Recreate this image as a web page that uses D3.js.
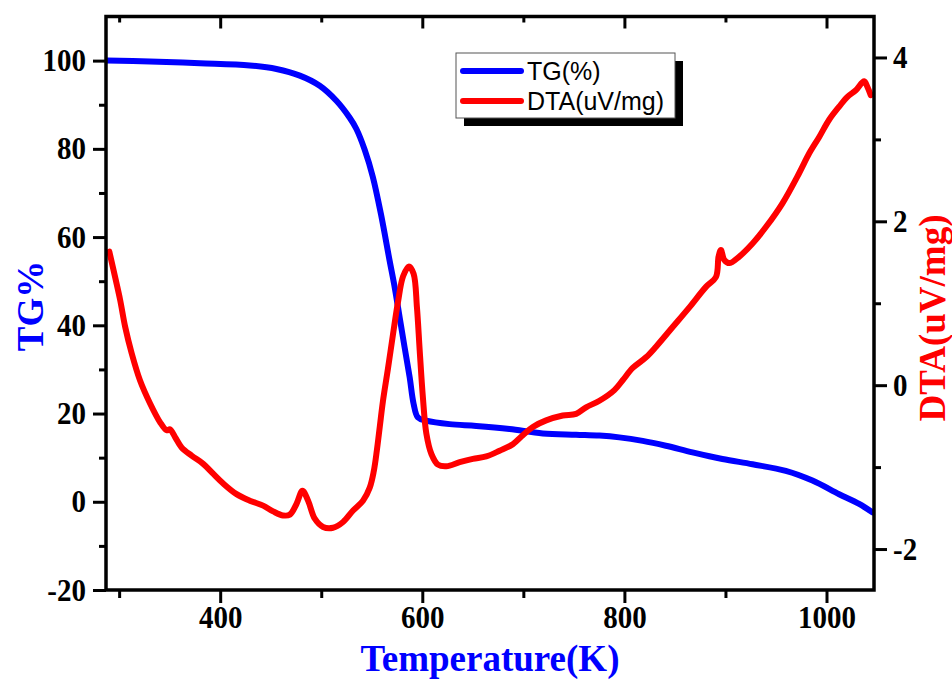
<!DOCTYPE html>
<html>
<head>
<meta charset="utf-8">
<script src="https://cdn.jsdelivr.net/npm/d3@7/dist/d3.min.js"></script>
<style>
  html, body { margin: 0; padding: 0; background: #ffffff; }
  svg { display: block; }
  .tick text { font-family: "Liberation Serif", "Times New Roman", serif; font-weight: bold; font-size: 29px; fill: #000; }
</style>
</head>
<body>
<svg id="chart" width="952" height="681"></svg>
<script>
// ---- Data ----
const tgTemp = [287.7, 330.5, 380, 429.3, 455.7, 478.8, 498.5, 515, 528, 534.8, 543, 551, 559, 567.7, 572.7, 577.6, 582.5, 587.5, 591.4, 595.7, 604, 627, 653.4, 686.3, 719.2, 752.2, 775.3, 795, 818.1, 841, 867.4, 897, 926.8, 959.7, 986.1, 1012.5, 1032.3, 1045.4];
const tgValue = [100, 99.8, 99.4, 98.9, 98.1, 96.6, 94.3, 90.9, 87.1, 84.5, 79.8, 73.7, 65.3, 54.6, 48.6, 41.8, 35.0, 28.2, 22.2, 19.1, 18.4, 17.6, 17.2, 16.5, 15.5, 15.2, 15.0, 14.6, 13.8, 12.7, 11.2, 9.7, 8.5, 7.0, 4.8, 1.7, -0.5, -2.4];

const dtaTemp = [290.3, 296, 301, 306, 312.4, 320.6, 330.5, 340.4, 347, 350.3, 355.2, 361.8, 371.7, 383.2, 393, 403, 416.2, 429.3, 442.5, 452.4, 462.3, 468.9, 475.5, 481.4, 487, 493.6, 501.8, 511.7, 521.6, 531.5, 541.3, 548, 552, 555, 558, 561, 566, 571, 576, 581, 586.8, 591.4, 594.7, 597.4, 600.6, 604, 609, 615.5, 623.8, 637, 650, 663.3, 676.5, 689.6, 699.5, 709.4, 722.6, 739, 752.2, 762.1, 775.3, 790.1, 798.3, 808.2, 821.4, 831.3, 847.8, 864.3, 880.7, 890.6, 893.2, 895.5, 898.8, 903.8, 913.7, 926.8, 940, 956.4, 973, 982.9, 992.8, 1002.6, 1012.5, 1020.7, 1029, 1037.2, 1040.5, 1043.8];
const dtaValue = [1.63, 1.32, 1.04, 0.71, 0.39, 0.06, -0.22, -0.45, -0.55, -0.54, -0.63, -0.76, -0.86, -0.96, -1.08, -1.20, -1.33, -1.41, -1.47, -1.54, -1.59, -1.58, -1.45, -1.29, -1.41, -1.63, -1.73, -1.74, -1.67, -1.53, -1.41, -1.25, -1.05, -0.8, -0.5, -0.2, 0.2, 0.62, 1.02, 1.33, 1.45, 1.36, 0.95, 0.43, -0.15, -0.59, -0.84, -0.97, -0.99, -0.94, -0.90, -0.87, -0.80, -0.72, -0.61, -0.51, -0.43, -0.37, -0.35, -0.27, -0.19, -0.06, 0.06, 0.21, 0.34, 0.47, 0.71, 0.95, 1.20, 1.32, 1.57, 1.65, 1.53, 1.49, 1.57, 1.73, 1.93, 2.22, 2.59, 2.83, 3.03, 3.24, 3.40, 3.52, 3.60, 3.71, 3.64, 3.54];

const xMajorTicks = [400, 600, 800, 1000];
const xMinorTicks = [300, 500, 700, 900];
const yLeftMajorTicks = [-20, 0, 20, 40, 60, 80, 100];
const yLeftMinorTicks = [-10, 10, 30, 50, 70, 90];
const yRightMajorTicks = [-2, 0, 2, 4];
const yRightMinorTicks = [-1, 1, 3];

const seriesNames = ["TG(%)", "DTA(uV/mg)"];
const seriesColors = ["#0000ff", "#ff0000"];
const xTitle = "Temperature(K)";
const yLeftTitle = "TG%";
const yRightTitle = "DTA(uV/mg)";

// ---- Layout ----
const W = 952, H = 681;
const margin = { left: 106, right: 78, top: 16.5, bottom: 91 };
const iw = W - margin.left - margin.right;
const ih = H - margin.top - margin.bottom;

const svg = d3.select("#chart");
svg.append("rect").attr("width", W).attr("height", H).attr("fill", "#ffffff");
const g = svg.append("g").attr("transform", `translate(${margin.left},${margin.top})`);

const x = d3.scaleLinear().domain([287, 1047]).range([0, iw]);
const yL = d3.scaleLinear().domain([-20, 110]).range([ih, 0]);
const yR = d3.scaleLinear().domain([-2.5, 4.5]).range([ih, 0]);

svg.append("defs").append("clipPath").attr("id", "clip")
  .append("rect").attr("x", 0).attr("y", 0).attr("width", iw).attr("height", ih);

// ---- Curves ----
const tgData = tgTemp.map((t, i) => [t, tgValue[i]]);
const dtaData = dtaTemp.map((t, i) => [t, dtaValue[i]]);

const plot = g.append("g").attr("clip-path", "url(#clip)");
plot.append("path")
  .datum(tgData)
  .attr("fill", "none")
  .attr("stroke", seriesColors[0])
  .attr("stroke-width", 6)
  .attr("stroke-linejoin", "round")
  .attr("stroke-linecap", "round")
  .attr("d", d3.line().x(d => x(d[0])).y(d => yL(d[1])).curve(d3.curveCatmullRom.alpha(0.5)));

plot.append("path")
  .datum(dtaData)
  .attr("fill", "none")
  .attr("stroke", seriesColors[1])
  .attr("stroke-width", 6)
  .attr("stroke-linejoin", "round")
  .attr("stroke-linecap", "round")
  .attr("d", d3.line().x(d => x(d[0])).y(d => yR(d[1])).curve(d3.curveCatmullRom.alpha(0.5)));

// ---- Axes ----
const fmt = d => String(d);
function styleAxis(sel, width) {
  sel.select(".domain").remove();
  sel.selectAll(".tick line").attr("stroke", "#000").attr("stroke-width", width);
  sel.selectAll(".tick text").attr("transform", "scale(1,1.08)");
}

g.append("g").attr("transform", `translate(0,${ih})`)
  .call(d3.axisBottom(x).tickValues(xMajorTicks).tickSize(13).tickPadding(2).tickFormat(fmt))
  .call(s => styleAxis(s, 3));
g.append("g").attr("transform", `translate(0,${ih})`)
  .call(d3.axisBottom(x).tickValues(xMinorTicks).tickSize(8).tickFormat(""))
  .call(s => styleAxis(s, 3));
g.append("g")
  .call(d3.axisBottom(x).tickValues(xMajorTicks).tickSize(12).tickFormat(""))
  .call(s => styleAxis(s, 3));
g.append("g")
  .call(d3.axisBottom(x).tickValues(xMinorTicks).tickSize(6).tickFormat(""))
  .call(s => styleAxis(s, 3));
g.append("g")
  .call(d3.axisLeft(yL).tickValues(yLeftMajorTicks).tickSize(13).tickPadding(7).tickFormat(fmt))
  .call(s => styleAxis(s, 3));
g.append("g")
  .call(d3.axisLeft(yL).tickValues(yLeftMinorTicks).tickSize(7).tickFormat(""))
  .call(s => styleAxis(s, 3));
g.append("g").attr("transform", `translate(${iw},0)`)
  .call(d3.axisRight(yR).tickValues(yRightMajorTicks).tickSize(13).tickPadding(6).tickFormat(fmt))
  .call(s => styleAxis(s, 3));
g.append("g").attr("transform", `translate(${iw},0)`)
  .call(d3.axisRight(yR).tickValues(yRightMinorTicks).tickSize(7).tickFormat(""))
  .call(s => styleAxis(s, 3));

g.append("rect").attr("x", 0).attr("y", 0).attr("width", iw).attr("height", ih)
  .attr("fill", "none").attr("stroke", "#000").attr("stroke-width", 3.5);

// ---- Titles ----
const titleFont = '"Liberation Serif", "Times New Roman", serif';
svg.append("text")
  .attr("x", margin.left + iw / 2).attr("y", 671)
  .attr("text-anchor", "middle")
  .attr("font-family", titleFont).attr("font-weight", "bold").attr("font-size", 37)
  .attr("fill", seriesColors[0])
  .text(xTitle);

svg.append("text")
  .attr("transform", `translate(43,306) rotate(-90)`)
  .attr("text-anchor", "middle")
  .attr("font-family", titleFont).attr("font-weight", "bold").attr("font-size", 37)
  .attr("fill", seriesColors[0])
  .text(yLeftTitle);

svg.append("text")
  .attr("transform", `translate(945,318) rotate(-90)`)
  .attr("text-anchor", "middle")
  .attr("font-family", titleFont).attr("font-weight", "bold").attr("font-size", 37)
  .attr("fill", seriesColors[1])
  .text(yRightTitle);

// ---- Legend ----
const lg = svg.append("g").attr("transform", "translate(456,53)");
const lw = 219, lh = 65;
lg.append("rect").attr("x", 8).attr("y", 8).attr("width", lw).attr("height", lh).attr("fill", "#000");
lg.append("rect").attr("x", 0).attr("y", 0).attr("width", lw).attr("height", lh)
  .attr("fill", "#fff").attr("stroke", "#555").attr("stroke-width", 1);
seriesNames.forEach((name, i) => {
  const yy = 18 + i * 30;
  lg.append("line").attr("x1", 7).attr("x2", 65).attr("y1", yy).attr("y2", yy)
    .attr("stroke", seriesColors[i]).attr("stroke-width", 6).attr("stroke-linecap", "round");
  lg.append("text").attr("x", 71).attr("y", yy + 9)
    .attr("font-family", '"Liberation Sans", Arial, sans-serif').attr("font-size", 25)
    .attr("fill", "#000").text(name);
});
</script>
</body>
</html>
